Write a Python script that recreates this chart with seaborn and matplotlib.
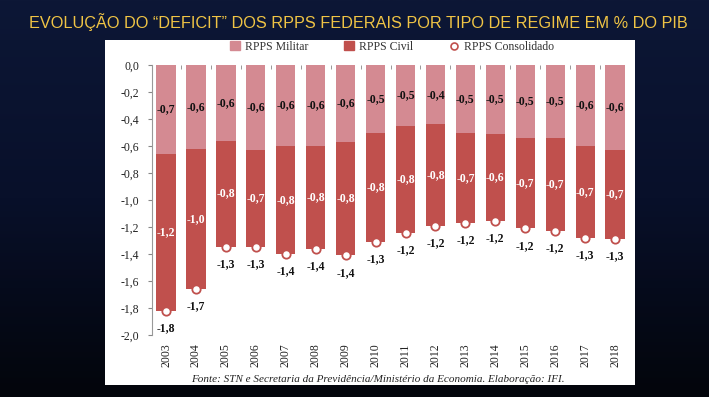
import numpy as np
import pandas as pd
import seaborn as sns
from matplotlib import pyplot as plt
from matplotlib.colors import LinearSegmentedColormap
from matplotlib.patches import Rectangle, Patch
from matplotlib.lines import Line2D

years = [str(y) for y in range(2003, 2019)]
militar = [0.66, 0.62, 0.56, 0.63, 0.60, 0.60, 0.57, 0.50, 0.452, 0.44, 0.50, 0.51, 0.54, 0.54, 0.60, 0.63]
civil = [1.16, 1.04, 0.785, 0.715, 0.80, 0.76, 0.84, 0.81, 0.79, 0.752, 0.67, 0.646, 0.67, 0.69, 0.68, 0.66]
y_ticks = [0.0, -0.2, -0.4, -0.6, -0.8, -1.0, -1.2, -1.4, -1.6, -1.8, -2.0]

C_MIL = "#d48a92"
C_CIV = "#c0504d"


def br(v):
    return f"{v:.1f}".replace(".", ",")


df = pd.DataFrame({"ano": years, "militar": militar, "civil": civil})
df["total"] = df["militar"] + df["civil"]

sns.set_style("white")
plt.rcParams["font.family"] = ["Liberation Serif", "DejaVu Serif"]

fig = plt.figure(figsize=(7.09, 3.97), dpi=100)

# fundo escuro
bg = fig.add_axes([0, 0, 1, 1], zorder=-2)
grad = np.linspace(0, 1, 256).reshape(-1, 1)
bg.imshow(grad, aspect="auto", extent=[0, 1, 0, 1],
          cmap=LinearSegmentedColormap.from_list("bg", ["#0d1736", "#08102a", "#03050b"]))
bg.axis("off")
fig.patches.append(Rectangle((105 / 709, 1 - 385 / 397), 530 / 709, 345 / 397,
                             transform=fig.transFigure, facecolor="white",
                             edgecolor="none", zorder=-1))

fig.text(0.506, 1 - 22 / 397,
         "EVOLUÇÃO DO “DEFICIT” DOS RPPS FEDERAIS POR TIPO DE REGIME EM % DO PIB",
         color="#f0c445", fontsize=11.7, family="Liberation Sans",
         ha="center", va="center")

ax = fig.add_axes([151.7 / 709, 1 - 335 / 397, (630 - 151.7) / 709, 270 / 397])
ax.set_facecolor("none")

sns.barplot(data=df, x="ano", y=-df["total"], color=C_CIV, width=0.64,
            saturation=1, linewidth=0, ax=ax, zorder=2)
sns.barplot(data=df, x="ano", y=-df["militar"], color=C_MIL, width=0.64,
            saturation=1, linewidth=0, ax=ax, zorder=3)
ax.plot(range(len(df)), -df["total"], "o", ms=6, mfc="white", mec=C_CIV,
        mew=1.3, ls="none", zorder=4)

for i, r in df.iterrows():
    ax.text(i, -r["militar"] / 2, "-" + br(r["militar"]), ha="center",
            va="center", fontsize=8.5, fontweight="bold", color="#111111", zorder=5)
    ax.text(i, -(r["militar"] + r["total"]) / 2, "-" + br(r["civil"]),
            ha="center", va="center", fontsize=8.5, fontweight="bold",
            color="white", zorder=5)
    ax.annotate("-" + br(r["total"]), (i, -r["total"]), xytext=(0, -12.5),
                textcoords="offset points", ha="center", va="center",
                fontsize=8.5, fontweight="bold", color="#111111", zorder=5)

ax.set_ylim(-2.0, 0.0)
ax.set_xlim(-0.48, 15.5)
ax.set_yticks(y_ticks)
ax.set_yticklabels([br(v) for v in y_ticks], fontsize=8.5, color="#222222")
ax.set_xlabel("")
ax.set_ylabel("")
ax.set_xticks(range(len(years)))
ax.set_xticklabels(years, rotation=90, fontsize=8.5, color="#222222")
ax.set_xticks(np.arange(0.5, 15.5, 1), minor=True)
ax.tick_params(axis="x", which="major", length=0, pad=6)
ax.tick_params(axis="x", which="minor", top=True, bottom=False, direction="in",
               length=3, color="#888888")
ax.tick_params(axis="y", which="major", left=True, length=3, color="#888888", pad=6)
for s in ["top", "right", "bottom"]:
    ax.spines[s].set_visible(False)
ax.spines["left"].set_color("#999999")
ax.spines["left"].set_linewidth(0.8)

handles = [Patch(color=C_MIL, label="RPPS Militar"),
           Patch(color=C_CIV, label="RPPS Civil"),
           Line2D([], [], marker="o", ls="none", mfc="white", mec=C_CIV, mew=1.2,
                  ms=5, label="RPPS Consolidado")]
leg = fig.legend(handles=handles, loc="center", bbox_to_anchor=(392 / 709, 1 - 47 / 397),
                 ncol=3, frameon=False, fontsize=8.5, columnspacing=3.1,
                 handlelength=0.8, handleheight=0.8, handletextpad=0.4)
for t in leg.get_texts():
    t.set_color("#333333")

fig.text(378 / 709, 1 - 379 / 397,
         "Fonte: STN e Secretaria da Previdência/Ministério da Economia. Elaboração: IFI.",
         ha="center", va="center", fontsize=8, style="italic", color="#222222")

fig.savefig("out.png", dpi=100)
